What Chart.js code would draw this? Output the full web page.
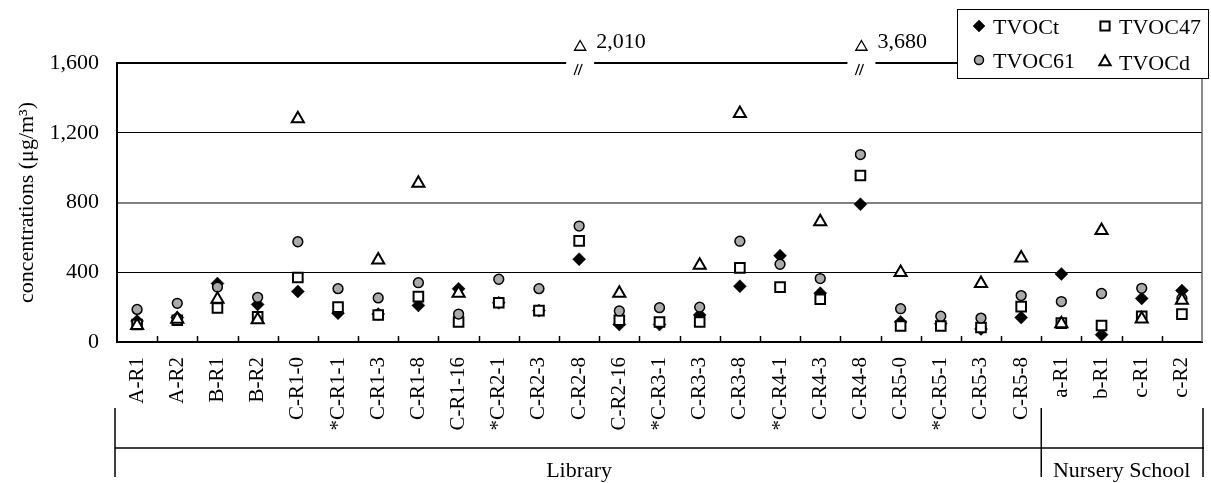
<!DOCTYPE html>
<html>
<head>
<meta charset="utf-8">
<script src="https://cdn.jsdelivr.net/npm/chart.js@4.4.1/dist/chart.umd.min.js"></script>
<style>
  html, body { margin: 0; padding: 0; background: #fff; }
  #wrap { width: 1211px; height: 483px; position: relative; }
</style>
</head>
<body>
<div id="wrap"><canvas id="c"></canvas></div>
<script>
// Sampling sites (asterisked sites have no TVOCd value)
const categories = ['A-R1','A-R2','B-R1','B-R2','C-R1-0','*C-R1-1','C-R1-3','C-R1-8','C-R1-16','*C-R2-1','C-R2-3','C-R2-8','C-R2-16','*C-R3-1','C-R3-3','C-R3-8','*C-R4-1','C-R4-3','C-R4-8','C-R5-0','*C-R5-1','C-R5-3','C-R5-8','a-R1','b-R1','c-R1','c-R2'];

// Concentrations in µg/m3
const tvocT  = [120,140,335,215,290,165,160,210,305,225,180,475,100,100,155,320,495,280,790,115,105,75,140,390,42,250,295];
const tvoc47 = [100,125,195,145,370,200,155,260,115,225,180,580,125,115,115,425,315,245,955,92,92,83,203,108,95,148,160];
const tvoc61 = [187,222,315,256,575,306,253,340,160,360,306,665,178,197,200,578,446,364,1075,191,148,137,266,232,278,308,250];
const tvocD  = [95,130,245,128,1280,null,470,910,280,null,null,2010,280,null,440,1310,null,690,3680,398,null,335,482,105,640,132,240];

// Axis range and ticks
const yTicks = [0, 400, 800, 1200, 1600];

// Site groups along the bottom (first and last category index)
const groupNames = ['Library', 'Nursery School'];
const groupStart = [0, 23];
const groupEnd   = [22, 26];

const FONT = "'Liberation Serif', 'Times New Roman', serif";
const yMax = yTicks[yTicks.length - 1];

function fmt(v) { return v.toLocaleString('en-US'); }

// Marker outline helper used for the legend and the off-scale annotations
function marker(ctx, style, x, y, r, fill, stroke, lw) {
  ctx.beginPath();
  if (style === 'diamond') {
    ctx.moveTo(x - r, y); ctx.lineTo(x, y - r); ctx.lineTo(x + r, y); ctx.lineTo(x, y + r); ctx.closePath();
  } else if (style === 'square') {
    const h = r * Math.SQRT1_2;
    ctx.rect(x - h, y - h, 2 * h, 2 * h);
  } else if (style === 'circle') {
    ctx.arc(x, y, r, 0, Math.PI * 2);
  } else {
    ctx.moveTo(x, y - r);
    ctx.lineTo(x + r * 0.866, y + r * 0.5);
    ctx.lineTo(x - r * 0.866, y + r * 0.5);
    ctx.closePath();
  }
  ctx.fillStyle = fill; ctx.fill();
  if (lw > 0) { ctx.lineWidth = lw; ctx.strokeStyle = stroke; ctx.stroke(); }
}

const decor = {
  id: 'decor',
  afterDraw(chart) {
    const { ctx, chartArea: a, scales: { x, y } } = chart;
    const half = (x.getPixelForValue(1) - x.getPixelForValue(0)) / 2;
    const top = y.getPixelForValue(yMax);
    const box = { l: 957, t: 9, r: 1209, b: 79 };
    ctx.save();

    // inner tick marks on the category axis
    ctx.strokeStyle = '#000'; ctx.lineWidth = 1.5;
    for (let i = 1; i < categories.length; i++) {
      const px = Math.round(x.getPixelForValue(i) - half) + 0.5;
      ctx.beginPath(); ctx.moveTo(px, a.bottom); ctx.lineTo(px, a.bottom - 6); ctx.stroke();
    }

    // top gridline, broken where a value runs off the scale
    const breaks = [];
    tvocD.forEach((v, i) => { if (v !== null && v > yMax) breaks.push(i); });
    ctx.strokeStyle = '#000'; ctx.lineWidth = 2;
    let startX = a.left;
    breaks.forEach(i => {
      const cx = x.getPixelForValue(i);
      ctx.beginPath(); ctx.moveTo(startX, top); ctx.lineTo(cx - 13, top); ctx.stroke();
      startX = cx + 15;
    });
    ctx.beginPath(); ctx.moveTo(startX, top); ctx.lineTo(box.l, top); ctx.stroke();

    // break marks and off-scale values
    breaks.forEach(i => {
      const cx = x.getPixelForValue(i);
      ctx.strokeStyle = '#000'; ctx.lineWidth = 1.2;
      for (const dx of [-3, 1]) {
        ctx.beginPath(); ctx.moveTo(cx + dx - 2, top + 12); ctx.lineTo(cx + dx + 2, top + 1); ctx.stroke();
      }
      marker(ctx, 'triangle', cx + 1, 47, 6.5, '#fff', '#000', 1.3);
      ctx.fillStyle = '#000';
      ctx.font = '22px ' + FONT;
      ctx.textAlign = 'left'; ctx.textBaseline = 'alphabetic';
      ctx.fillText(fmt(tvocD[i]), cx + 17, 48);
    });

    // right frame line
    ctx.strokeStyle = '#666'; ctx.lineWidth = 1.5;
    ctx.beginPath(); ctx.moveTo(a.right, box.b); ctx.lineTo(a.right, a.bottom); ctx.stroke();

    // legend
    ctx.fillStyle = '#fff';
    ctx.fillRect(box.l, box.t, box.r - box.l, box.b - box.t);
    ctx.strokeStyle = '#000'; ctx.lineWidth = 1;
    ctx.strokeRect(box.l + 0.5, box.t + 0.5, box.r - box.l - 1, box.b - box.t - 1);
    const ds = chart.data.datasets;
    const items = [
      { d: ds[0], s: 'diamond', x: 979, y: 26, r: 6 },
      { d: ds[1], s: 'square', x: 1105, y: 26, r: 6.5 },
      { d: ds[2], s: 'circle', x: 979, y: 60, r: 4.5 },
      { d: ds[3], s: 'triangle', x: 1105, y: 62, r: 6.5 }
    ];
    ctx.font = '22px ' + FONT;
    ctx.textAlign = 'left'; ctx.textBaseline = 'alphabetic';
    items.forEach(it => {
      marker(ctx, it.s, it.x, it.y, it.r, it.d.backgroundColor, it.d.borderColor, it.d.borderWidth);
      ctx.fillStyle = '#000';
      ctx.fillText(it.d.label, it.x + 14, it.y + 7.5);
    });

    // site groups below the category labels
    const lineY = 448;
    const edges = groupStart.map(i => x.getPixelForValue(i) - half);
    const rightEdge = x.getPixelForValue(groupEnd[groupEnd.length - 1]) + half;
    ctx.strokeStyle = '#000'; ctx.lineWidth = 1.5;
    ctx.beginPath(); ctx.moveTo(edges[0] - 2, lineY); ctx.lineTo(rightEdge + 2, lineY); ctx.stroke();
    [edges[0] - 2, ...edges.slice(1), rightEdge + 1].forEach(ex => {
      ctx.beginPath(); ctx.moveTo(ex, 408); ctx.lineTo(ex, 477); ctx.stroke();
    });
    ctx.fillStyle = '#000';
    ctx.font = '22px ' + FONT;
    ctx.textAlign = 'center';
    groupNames.forEach((n, g) => {
      const l = x.getPixelForValue(groupStart[g]) - half;
      const r = x.getPixelForValue(groupEnd[g]) + half;
      ctx.fillText(n, (l + r) / 2, 477);
    });
    ctx.restore();
  }
};

new Chart(document.getElementById('c'), {
  type: 'line',
  data: {
    labels: categories,
    datasets: [
      { label: 'TVOCt', data: tvocT, order: 4, pointStyle: 'rectRot', pointRadius: 6.5,
        backgroundColor: '#000', borderColor: '#000', borderWidth: 0.5 },
      { label: 'TVOC47', data: tvoc47, order: 3, pointStyle: 'rect', pointRadius: 6.8,
        backgroundColor: '#fff', borderColor: '#000', borderWidth: 2 },
      { label: 'TVOC61', data: tvoc61, order: 2, pointStyle: 'circle', pointRadius: 4.9,
        backgroundColor: '#aaaaaa', borderColor: '#000', borderWidth: 1.5 },
      { label: 'TVOCd', data: tvocD, order: 1, pointStyle: 'triangle', pointRadius: 7,
        backgroundColor: '#fff', borderColor: '#000', borderWidth: 2 }
    ].map(d => Object.assign(d, { showLine: false, pointBorderWidth: d.borderWidth,
        pointBackgroundColor: d.backgroundColor, pointBorderColor: d.borderColor, spanGaps: false }))
  },
  options: {
    responsive: true,
    maintainAspectRatio: false,
    animation: false,
    events: [],
    layout: { padding: { left: 0, top: 63, right: 8, bottom: 0 } },
    plugins: { legend: { display: false }, tooltip: { enabled: false } },
    scales: {
      x: {
        offset: true,
        grid: { display: false, drawTicks: false },
        border: { display: true, color: '#000', width: 2 },
        ticks: { autoSkip: false, maxRotation: 90, minRotation: 90, padding: 15, color: '#000',
                 font: { family: FONT, size: 21 } },
        afterFit(s) { s.height = 141; s.paddingLeft = 0; s.paddingRight = 0; }
      },
      y: {
        min: yTicks[0], max: yMax,
        afterBuildTicks(s) { s.ticks = yTicks.map(v => ({ value: v })); },
        grid: {
          drawTicks: false,
          color: c => (c.tick.value === 800 ? '#808080' : (c.tick.value === yMax || c.tick.value === 0) ? 'rgba(0,0,0,0)' : '#000'),
          lineWidth: c => (c.tick.value === 800 ? 2 : 1)
        },
        border: { display: true, color: '#000', width: 2 },
        ticks: { padding: 18, color: '#000', font: { family: FONT, size: 22 }, callback: v => fmt(v) },
        title: { display: true, text: 'concentrations (μg/m³)', color: '#000',
                 font: { family: FONT, size: 22 }, padding: { top: 14, bottom: 0 } },
        afterFit(s) { s.width = 117; }
      }
    }
  },
  plugins: [decor]
});
</script>
</body>
</html>
